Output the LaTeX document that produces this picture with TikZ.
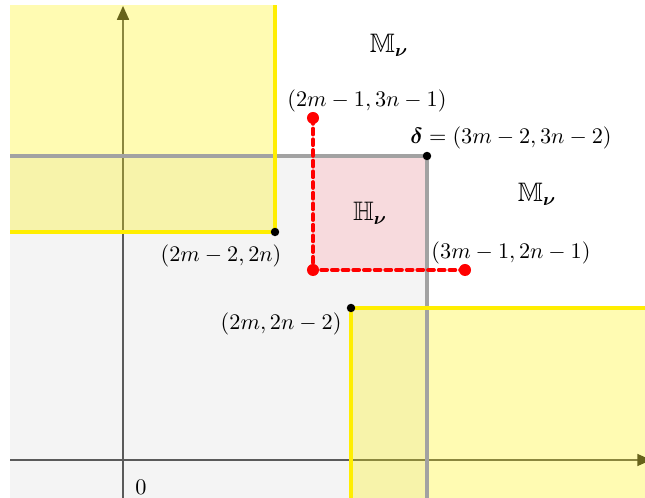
\documentclass[tikz,border=0pt]{standalone}
\usepackage{amsmath,amssymb}
\usetikzlibrary{positioning,arrows.meta}
\definecolor{regiongray}{RGB}{244,244,244}
\definecolor{edgegray}{RGB}{162,162,162}
\definecolor{hpink}{RGB}{247,218,221}
\definecolor{bandyellow}{RGB}{255,238,0}
\definecolor{axisgray}{RGB}{90,90,90}
\begin{document}
\begin{tikzpicture}[x=0.6cm,y=0.6cm,
  cornerdot/.style={circle,fill=black,inner sep=0pt,minimum size=3.8pt},
  reddot/.style={circle,fill=red,inner sep=0pt,minimum size=5.4pt},
  axisline/.style={axisgray,line width=0.7pt,-{Triangle[length=2.2mm,width=1.9mm,color=black!85]}},
  edgeline/.style={line width=1.8pt}]
\clip (-3.237,-0.974) rectangle (13.737,12.105);
% corner points
\coordinate (O) at (0,0);
\coordinate (A) at (4,6);
\coordinate (B) at (6,4);
\coordinate (D) at (8,8);
\coordinate (R0) at (5,5);
\coordinate (R1) at (5,9);
\coordinate (R2) at (9,5);
% regions
\fill[regiongray] (-2.97,-1.1) rectangle (D);
\fill[hpink] (R0) rectangle (D);
% axes
\draw[axisline] (-2.97,0) -- (13.9,0);
\draw[axisline] (0,-1.1) -- (0,11.95);
% yellow bands
\fill[yellow,opacity=0.3] (-2.97,11.97) rectangle (A);
\fill[yellow,opacity=0.3] (B) rectangle (14,-1.1);
\draw[edgegray,edgeline] (-2.97,8) -- (D) -- (8,-1.1);
\draw[bandyellow,edgeline] (4,11.97) -- (A) -- (-2.97,6);
\draw[bandyellow,edgeline] (6,-1.1) -- (B) -- (14,4);
\draw[red,edgeline,line cap=round,dash pattern=on 2.6pt off 2.2pt] (R1) -- (R0) -- (R2);
% dots
\foreach \p in {A,B,D} \node[cornerdot] at (\p) {};
\foreach \p in {R0,R1,R2} \node[reddot] at (\p) {};
% labels
\node at (7,10.9) {\large$\mathbb{M}_{\boldsymbol{\nu}}$};
\node at (10.9,7) {\large$\mathbb{M}_{\boldsymbol{\nu}}$};
\node at (6.5,6.5) {\large$\mathbb{H}_{\boldsymbol{\nu}}$};
\node at (6.42,9.45) {$(2m-1,3n-1)$};
\node at (10.21,8.47) {$\boldsymbol{\delta}=(3m-2,3n-2)$};
\node at (10.21,5.45) {$(3m-1,2n-1)$};
\node at (2.58,5.37) {$(2m-2,2n)$};
\node at (4.16,3.58) {$(2m,2n-2)$};
\node at (0.47,-0.71) {$0$};
\end{tikzpicture}
\end{document}
